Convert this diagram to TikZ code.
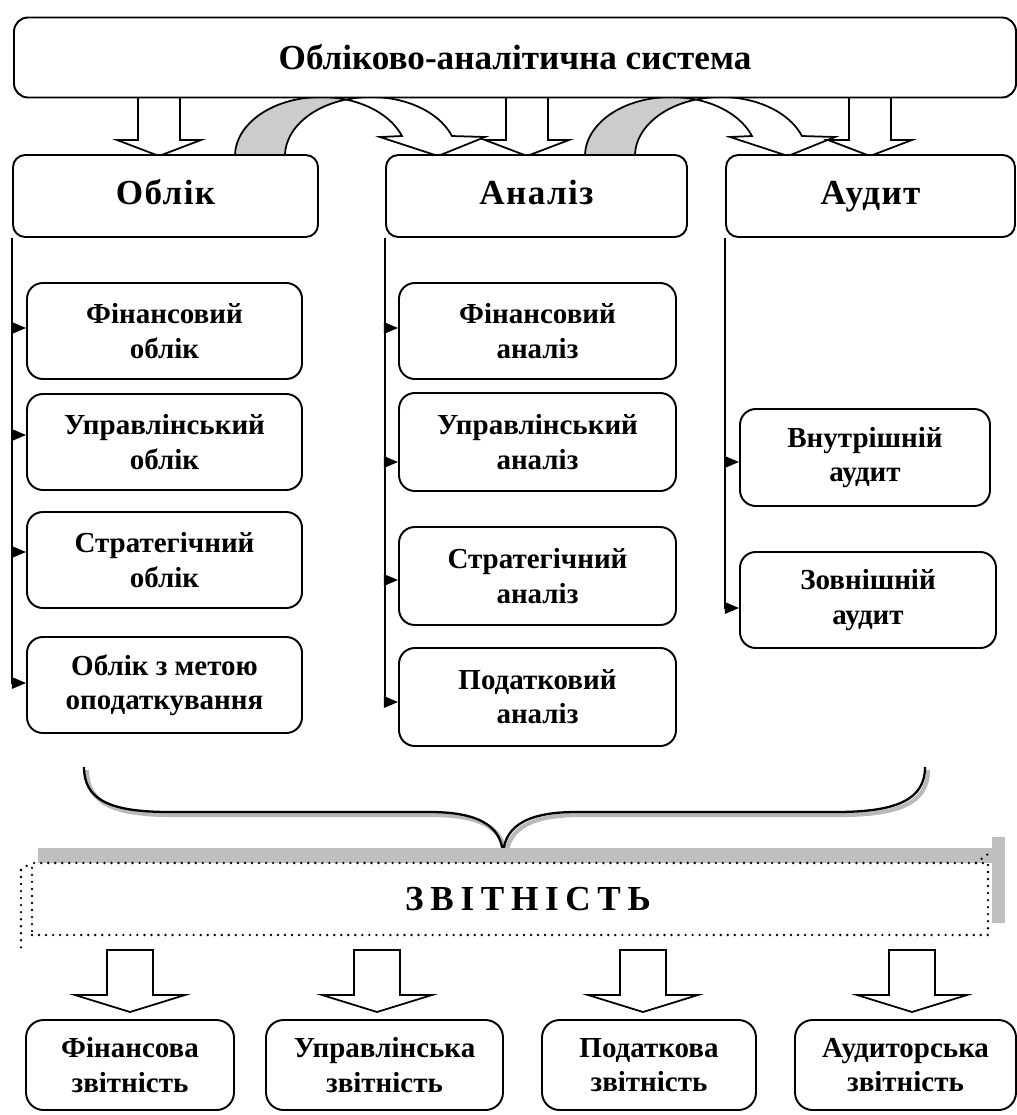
\documentclass[tikz,border=0pt]{standalone}
\usepackage{fontspec}
\setmainfont{Liberation Serif}
\usetikzlibrary{arrows.meta,calc}
\begin{document}
\begin{tikzpicture}[x=0.02cm,y=-0.02cm,line width=1pt,
  sz/.style 2 args={minimum width={#1*0.02cm}, minimum height={#2*0.02cm}},
  rbox/.style={draw, line width=1.1pt, rounded corners=8pt, fill=white, align=center, inner sep=0pt},
  subtxt/.style={font=\fontsize{16.5}{19.5}\selectfont\bfseries},
  hdr/.style={font=\fontsize{20}{24}\selectfont\bfseries\addfontfeatures{LetterSpace=4}, text height=14pt, text depth=4.5pt},
  blk/.style={draw, line width=1pt, fill=white, line join=miter},
  side/.style={line width=0.9pt, -{Triangle[length=8pt,width=6.5pt]}},
  dotln/.style={line width=1.5pt, dash pattern=on 0pt off 4pt, line cap=round},
  shade/.style={fill=gray!40, draw, line width=1pt},
]
\clip (0,0) rectangle (1017,1115);

% ---- curved block arrows (behind boxes)
\foreach \s in {0,350}{
\begin{scope}[shift={(\s,0)}]
  \filldraw[shade] plot[domain=180:286.9, samples=30] ({321+86*cos(\x)},{156+59*sin(\x)})
     -- plot[domain=253.1:180, samples=30] ({371+86*cos(\x)},{156+59*sin(\x)}) -- cycle;
  \filldraw[blk] plot[domain=286.9:340.2, samples=30] ({321+86*cos(\x)},{156+59*sin(\x)})
     -- (380,137) -- (438,156) -- (485,137)
     -- plot[domain=340.2:253.1, samples=30] ({371+86*cos(\x)},{156+59*sin(\x)}) -- cycle;
\end{scope}}

% ---- straight block arrows from the top box
\foreach \c in {159,527,870}{
  \filldraw[blk] ({\c-21},97) -- ({\c-21},140) -- ({\c-42},140) -- (\c,156)
     -- ({\c+42},140) -- ({\c+21},140) -- ({\c+21},97);
}

% ---- top box and headers
\node[rbox, sz={1002}{80}, font=\fontsize{20}{24}\selectfont\bfseries] (oas) at (515,57.5) {Обліково-аналітична система};
\node[rbox, hdr, rounded corners=7pt, sz={305}{82}] (oblik) at (165.5,196) {Облік};
\node[rbox, hdr, rounded corners=7pt, sz={301}{82}] (analiz) at (536.5,196) {Аналіз};
\node[rbox, hdr, rounded corners=7pt, sz={289}{82}] (audyt) at (870.5,196) {Аудит};

% ---- sub boxes
\node[rbox, subtxt, rounded corners=9pt, sz={275}{96}] (lf1) at (164.5,331) {Фінансовий\\облік};
\node[rbox, subtxt, rounded corners=9pt, sz={275}{96}] (lf2) at (164.5,442) {Управлінський\\облік};
\node[rbox, subtxt, rounded corners=9pt, sz={275}{96}] (lf3) at (164.5,560) {Стратегічний\\облік};
\node[rbox, subtxt, rounded corners=9pt, sz={275}{96}] (lf4) at (164.5,685) {Облік з метою\\оподаткування};

\node[rbox, subtxt, rounded corners=9pt, sz={277}{96}] (ma1) at (537.5,331) {Фінансовий\\аналіз};
\node[rbox, subtxt, rounded corners=9pt, sz={277}{98}] (ma2) at (537.5,442) {Управлінський\\аналіз};
\node[rbox, subtxt, rounded corners=9pt, sz={277}{98}] (ma3) at (537.5,576) {Стратегічний\\аналіз};
\node[rbox, subtxt, rounded corners=9pt, sz={277}{98}] (ma4) at (537.5,697) {Податковий\\аналіз};

\node[rbox, subtxt, rounded corners=9pt, sz={250}{97}] (ra1) at (865,457.5) {Внутрішній\\аудит};
\node[rbox, subtxt, rounded corners=9pt, sz={256}{96}] (ra2) at (868,600) {Зовнішній\\аудит};

% ---- side connectors
\draw[side] (oblik.south west) |- ($(lf1.west)+(0,-3)$);
\draw[side] (oblik.south west) |- ($(lf2.west)+(0,-7)$);
\draw[side] (oblik.south west) |- ($(lf3.west)+(0,-8)$);
\draw[side] (oblik.south west) |- ($(lf4.west)+(0,-2)$);

\draw[side] (analiz.south west) |- ($(ma1.west)+(0,-3)$);
\draw[side] (analiz.south west) |- ($(ma2.west)+(0,20)$);
\draw[side] (analiz.south west) |- ($(ma3.west)+(0,4)$);
\draw[side] (analiz.south west) |- ($(ma4.west)+(0,5)$);

\draw[side] (audyt.south west) |- ($(ra1.west)+(0,4.5)$);
\draw[side] (audyt.south west) |- ($(ra2.west)+(0,8)$);

% ---- brace with shadow
\draw[gray!55, line width=2.4pt, shift={(3,3)}] (84,767) .. controls (84,800) and (110,812) .. (170,812) -- (430,812)
   .. controls (485,812) and (503,830) .. (503,857) .. controls (503,830) and (521,812) .. (576,812) -- (836,812)
   .. controls (896,812) and (925,800) .. (925,767);
\draw[line width=1.3pt] (84,767) .. controls (84,800) and (110,812) .. (170,812) -- (430,812)
   .. controls (485,812) and (503,830) .. (503,857) .. controls (503,830) and (521,812) .. (576,812) -- (836,812)
   .. controls (896,812) and (925,800) .. (925,767);

% ---- reporting box
\fill[gray!50] (38,848) rectangle (1000,863);
\fill[gray!50] (992,837) rectangle (1005,923);
\node[draw, dotln, sz={956}{72}, inner sep=0pt,
      font=\fontsize{20}{24}\selectfont\bfseries\addfontfeatures{LetterSpace=19}] (zvit) at (510,899) {\hspace*{0.72cm}ЗВІТНІСТЬ};
\draw[dotln] (21,870) -- (21,953);
\draw[dotln] (21,870) -- (32,862);
\draw[dotln] (976,863) -- (992,851);

% ---- block arrows down to reports
\foreach \c in {130,377,643,912}{
  \filldraw[blk] ({\c-23},950) -- ({\c+23},950) -- ({\c+23},995) -- ({\c+55},995) -- (\c,1012)
     -- ({\c-55},995) -- ({\c-23},995) -- cycle;
}

% ---- report boxes
\node[rbox, subtxt, rounded corners=10pt, sz={208}{90}] (b1) at (130,1065) {Фінансова\\звітність};
\node[rbox, subtxt, rounded corners=10pt, sz={237}{90}] (b2) at (384.5,1065) {Управлінська\\звітність};
\node[rbox, subtxt, rounded corners=10pt, sz={214}{90}] (b3) at (649,1065) {Податкова\\звітність};
\node[rbox, subtxt, rounded corners=10pt, sz={221}{90}] (b4) at (905.5,1065) {Аудиторська\\звітність};
\end{tikzpicture}
\end{document}
